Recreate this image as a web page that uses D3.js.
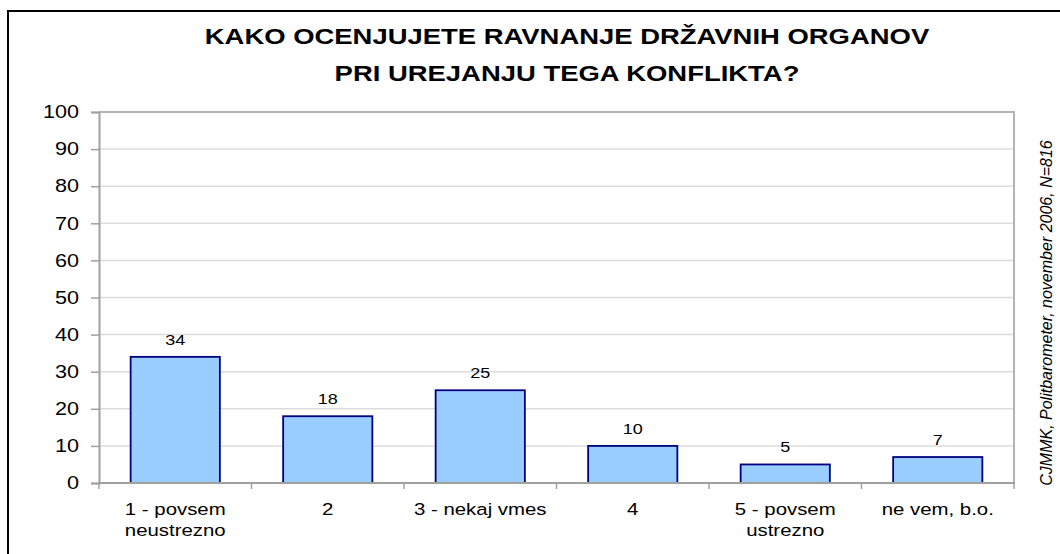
<!DOCTYPE html>
<html>
<head>
<meta charset="utf-8">
<script src="https://cdn.jsdelivr.net/npm/d3@7"></script>
<style>
  html, body { margin: 0; padding: 0; background: #fff; }
  svg { display: block; }
  text { font-family: Arial, "Liberation Sans", sans-serif; fill: #000; }
</style>
</head>
<body>
<svg id="chart" width="1060" height="554"></svg>
<script>
// Survey answers (percent of respondents)
const titleLines = ["KAKO OCENJUJETE RAVNANJE DRŽAVNIH ORGANOV", "PRI UREJANJU TEGA KONFLIKTA?"];
const categories = ["1 - povsem\nneustrezno", "2", "3 - nekaj vmes", "4", "5 - povsem\nustrezno", "ne vem, b.o."];
const values = [34, 18, 25, 10, 5, 7];
const yTicks = [0, 10, 20, 30, 40, 50, 60, 70, 80, 90, 100];
const sourceNote = "CJMMK, Politbarometer, november 2006, N=816";

const svg = d3.select("#chart");
const W = 1060, H = 554;
const plot = { left: 99, right: 1014, top: 112, bottom: 483 };
const SX = 1.2; // horizontal text stretch

// Outer frame (runs past the right and bottom edges)
svg.append("rect")
  .attr("x", 8).attr("y", 11)
  .attr("width", W + 20).attr("height", H + 20)
  .attr("fill", "#fff").attr("stroke", "#000").attr("stroke-width", 2);

function stretchedText(g, x, y, str, size, opts = {}) {
  return g.append("text")
    .attr("transform", `translate(${x},${y}) scale(${opts.sx || SX},1)`)
    .attr("text-anchor", opts.anchor || "middle")
    .attr("font-size", size)
    .attr("font-weight", opts.weight || "normal")
    .text(str);
}

// Title
const cx = 567;
stretchedText(svg, cx, 44, titleLines[0], 22.5, { weight: "bold", sx: 1.22 });
stretchedText(svg, cx, 81, titleLines[1], 22.5, { weight: "bold", sx: 1.22 });

// Scales
const x = d3.scaleBand()
  .domain(categories)
  .range([plot.left, plot.right])
  .paddingInner(0.415)
  .paddingOuter(0.2075);

const y = d3.scaleLinear()
  .domain([0, 100])
  .range([plot.bottom, plot.top]);

// Gridlines
svg.append("g")
  .selectAll("line")
  .data(yTicks.filter(t => t > 0 && t < 100))
  .join("line")
  .attr("x1", plot.left).attr("x2", plot.right)
  .attr("y1", d => y(d)).attr("y2", d => y(d))
  .attr("stroke", "#dcdcdc").attr("stroke-width", 1.5);

// Plot frame (top and right)
svg.append("path")
  .attr("d", `M${plot.left},${y(100)}H${plot.right}V${plot.bottom}`)
  .attr("fill", "none").attr("stroke", "#b4b4b4").attr("stroke-width", 2);

// Bars
svg.append("g")
  .selectAll("rect")
  .data(values)
  .join("rect")
  .attr("x", (d, i) => x(categories[i]))
  .attr("y", d => y(d))
  .attr("width", x.bandwidth())
  .attr("height", d => y(0) - y(d))
  .attr("fill", "#99ccff")
  .attr("stroke", "#000080")
  .attr("stroke-width", 1.8);

// Value labels
const vg = svg.append("g");
values.forEach((v, i) => {
  stretchedText(vg, x(categories[i]) + x.bandwidth() / 2, y(v) - 12, d3.format("d")(v), 15);
});

// Y axis
const yAxis = svg.append("g")
  .attr("transform", `translate(${plot.left},0)`)
  .call(d3.axisLeft(y).tickValues(yTicks).tickSize(8).tickPadding(12).tickFormat(d3.format("d")));
yAxis.select(".domain").attr("stroke", "#a0a0a0").attr("stroke-width", 2);
yAxis.selectAll(".tick line").attr("stroke", "#a0a0a0").attr("stroke-width", 1.5);
yAxis.selectAll(".tick text")
  .attr("font-size", 18)
  .attr("font-family", "Arial, 'Liberation Sans', sans-serif")
  .attr("fill", "#000")
  .attr("x", -20 / SX)
  .attr("transform", `scale(${SX},1)`);

// X axis line and slot ticks
const step = x.step();
const boundaries = d3.range(categories.length + 1).map(i => plot.left + i * step);
svg.append("line")
  .attr("x1", plot.left - 1).attr("x2", plot.right + 1)
  .attr("y1", y(0)).attr("y2", y(0))
  .attr("stroke", "#a0a0a0").attr("stroke-width", 2);
svg.append("g")
  .selectAll("line")
  .data(boundaries)
  .join("line")
  .attr("x1", d => d).attr("x2", d => d)
  .attr("y1", y(0)).attr("y2", y(0) + 6)
  .attr("stroke", "#a0a0a0").attr("stroke-width", 1.5);

// Category labels
const cg = svg.append("g");
categories.forEach(c => {
  c.split("\n").forEach((line, j) => {
    stretchedText(cg, x(c) + x.bandwidth() / 2, 515 + j * 21, line, 17);
  });
});

// Source note, rotated
svg.append("text")
  .attr("transform", "translate(1052,313) rotate(-90)")
  .attr("text-anchor", "middle")
  .attr("font-size", 16)
  .attr("font-style", "italic")
  .text(sourceNote);
</script>
</body>
</html>
